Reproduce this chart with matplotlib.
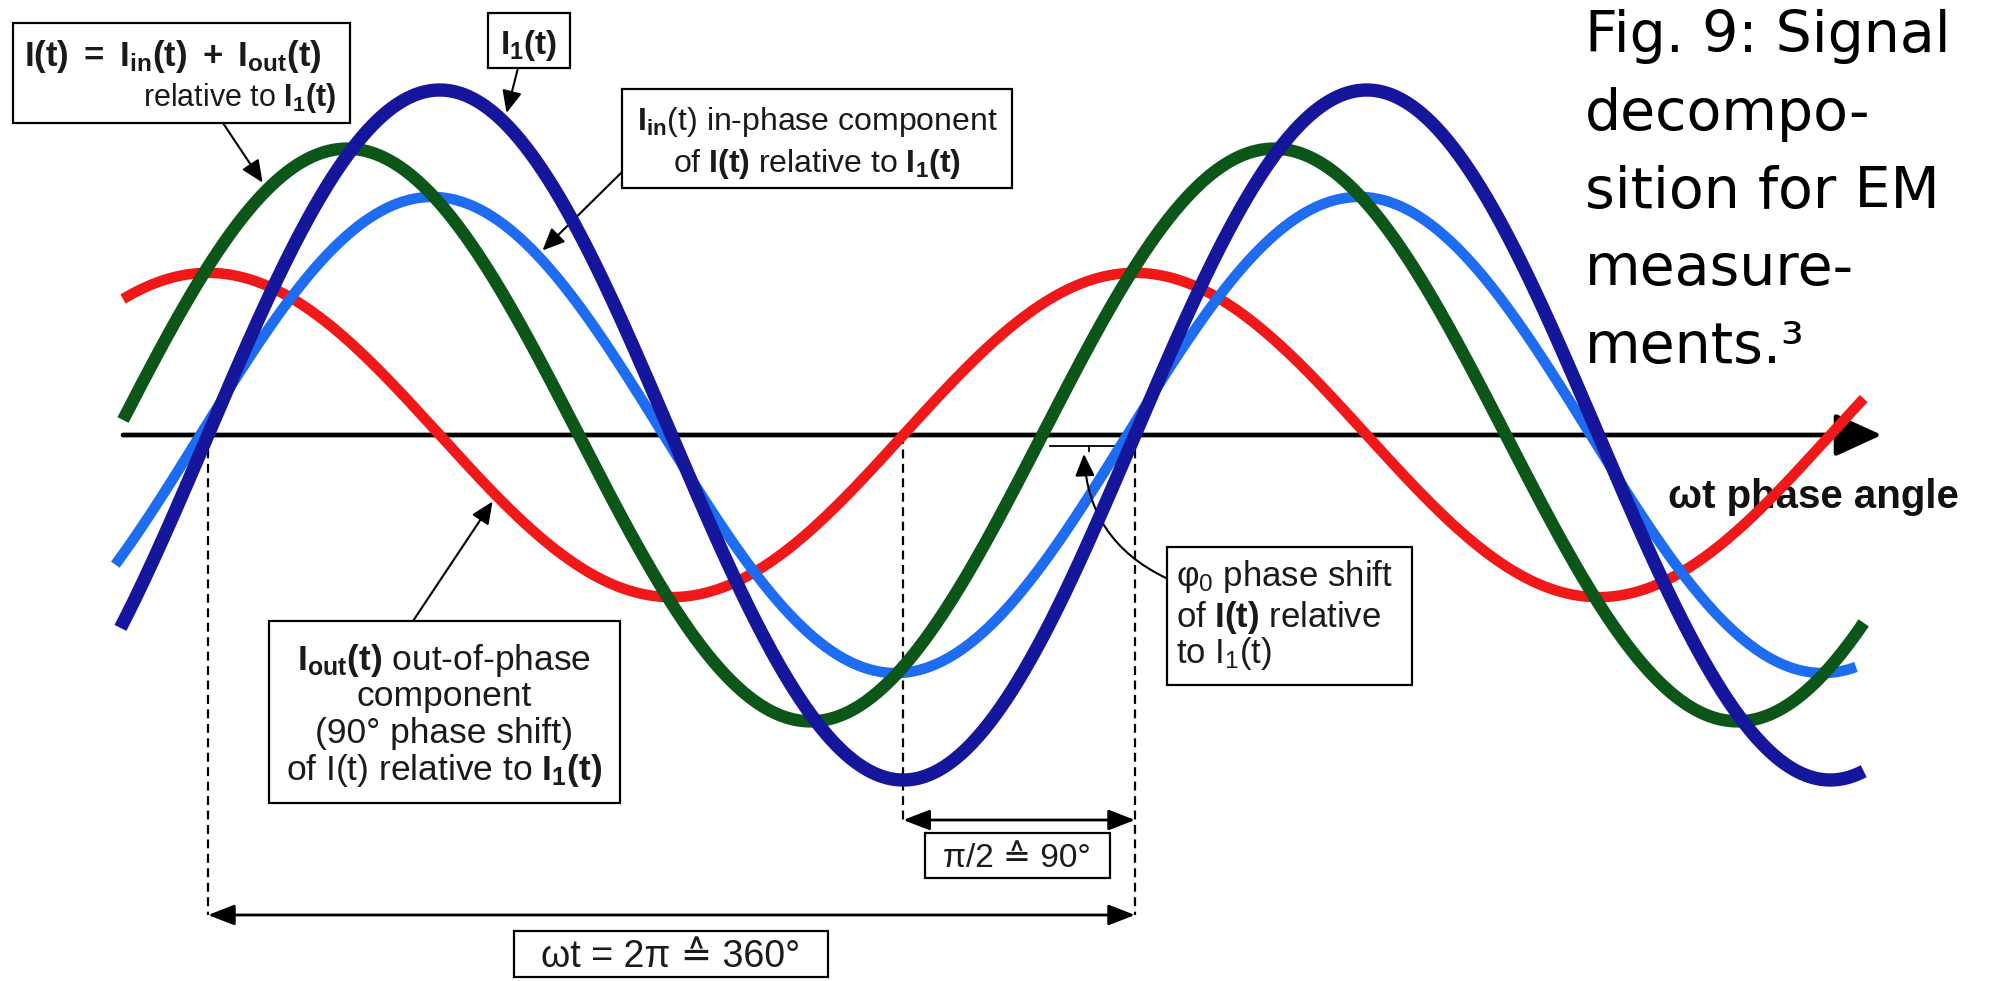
import numpy as np
import matplotlib.pyplot as plt
from matplotlib.patches import Rectangle

plt.rcParams['font.family'] = ['Liberation Sans', 'DejaVu Sans']
plt.rcParams['mathtext.fontset'] = 'custom'
plt.rcParams['mathtext.rm'] = 'Liberation Sans'
plt.rcParams['mathtext.it'] = 'Liberation Sans:italic'
plt.rcParams['mathtext.bf'] = 'Liberation Sans:bold'

# signals, amplitude relative to I1(t), phase lead in degrees
curve_names = ["I1(t)", "I(t)", "Iin(t)", "Iout(t)"]
amplitudes = [1.0, 0.83, 0.69, 0.47]
phase_leads = [0, 36, 3, 90]
start_angles = [-34, -33, -36, -33]
end_angles = [643, 643, 640, 643]
colors = ["#16169c", "#0c561a", "#1e6cf2", "#f01818"]
widths = [9.6, 9.0, 7.6, 7.6]
zorders = [5, 4, 3, 2]

# marked angles (degrees)
period_start = 0
quarter_start = 270
period_end = 360
phi0 = 36

caption_lines = ["Fig. 9: Signal", "decompo-", "sition for EM", "measure-", "ments.³"]

W, H = 1992, 981
X0, PX_DEG = 208, 2.575
Y0, PX_AMP = 435, 345


def d(px, py):
    # pixel position in the picture -> data coords
    return ((px - X0) / PX_DEG, (Y0 - py) / PX_AMP)


def signal(i, ang):
    return amplitudes[i] * np.sin(np.radians(np.asarray(ang) + phase_leads[i]))


fig = plt.figure(figsize=(W / 100, H / 100), dpi=100)
ax = fig.add_axes([0, 0, 1, 1])
ax.set_xlim(d(0, 0)[0], d(W, 0)[0])
ax.set_ylim(d(0, H)[1], d(0, 0)[1])
ax.axis('off')

# phase axis
ax.annotate('', xy=(650, 0), xytext=(-33, 0),
            arrowprops=dict(arrowstyle='-|>,head_length=1.2,head_width=0.55', mutation_scale=24,
                            lw=3.4, color='black', shrinkA=0, shrinkB=0), zorder=1)
ax.text(*d(1668, 508), "ωt phase angle", fontsize=29, fontweight='bold', ha='left', va='baseline',
        color='#111111', zorder=1)

# curves
for i in range(len(curve_names)):
    ang = np.linspace(start_angles[i], end_angles[i], 900)
    ax.plot(ang, signal(i, ang), color=colors[i], lw=widths[i], solid_capstyle='butt',
            zorder=zorders[i])

# dashed guides and dimension arrows
y_low = d(0, 915)[1]
y_mid = d(0, 820)[1]
dash = dict(color='black', lw=1.6, dashes=(4, 2.5), zorder=1.5)
ax.plot([period_start, period_start], [0, y_low], **dash)
ax.plot([quarter_start, quarter_start], [0, y_mid], **dash)
ax.plot([period_end, period_end], [0, y_low], **dash)
dim = dict(arrowstyle='<|-|>,head_length=0.9,head_width=0.35', mutation_scale=18, lw=2,
           color='black', shrinkA=0, shrinkB=0)
ax.annotate('', xy=(period_end, y_low), xytext=(period_start, y_low), arrowprops=dim)
ax.annotate('', xy=(period_end, y_mid), xytext=(quarter_start, y_mid), arrowprops=dim)

# phase shift bracket under the axis
yb = d(0, 446)[1]
ax.plot([period_end - phi0 + 3, period_end - 3], [yb, yb], color='black', lw=1.3, zorder=1.5)
ax.plot([period_end - phi0 / 2] * 2, [yb, d(0, 451)[1]], color='black', lw=1.3, zorder=1.5)


def box(x0, y0, x1, y1):
    a, b = d(x0, y1)
    c, e = d(x1, y0)
    ax.add_patch(Rectangle((a, b), c - a, e - b, fc='white', ec='black', lw=1.6, zorder=6))


def label(px, py, s, ha='center', size=23):
    ax.text(*d(px, py), s, fontsize=size, ha=ha, va='baseline', color='#1a1a1a', zorder=7)


arrow = dict(arrowstyle='-|>,head_length=0.9,head_width=0.4', mutation_scale=15, lw=1.5,
             color='black', shrinkA=0)

# I(t) box
box(13, 23, 350, 123)
label(24, 66, r"$\mathbf{I(t)\ =\ I_{in}(t)\ +\ I_{out}(t)}$", ha='left', size=25)
label(336, 106, r"relative to $\mathbf{I_1(t)}$", ha='right', size=22)
ax.annotate('', xy=(23, signal(1, 23)), xytext=d(223, 123), arrowprops=dict(arrow, shrinkB=6))

# I1(t) box
box(488, 13, 570, 68)
label(529, 54, r"$\mathbf{I_1(t)}$", size=24)
ax.annotate('', xy=(115, signal(0, 115)), xytext=d(518, 68), arrowprops=dict(arrow, shrinkB=7))

# in-phase box
box(622, 89, 1012, 188)
label(817, 130, r"$\mathbf{I_{in}}$(t) in-phase component")
label(817, 172, r"of $\mathbf{I(t)}$ relative to $\mathbf{I_1(t)}$")
ax.annotate('', xy=(128, signal(2, 128)), xytext=d(622, 172), arrowprops=dict(arrow, shrinkB=5))

# phase shift box
box(1167, 547, 1412, 685)
label(1176, 586, r"$\mathrm{φ_0}$ phase shift", ha='left', size=25)
label(1176, 627, r"of $\mathbf{I(t)}$ relative", ha='left', size=25)
label(1176, 663, r"to $\mathrm{I_1(t)}$", ha='left', size=25)
ax.annotate('', xy=d(1084, 454), xytext=d(1166, 578),
            arrowprops=dict(arrow, shrinkB=0, connectionstyle='arc3,rad=-0.3'))

# out-of-phase box
box(269, 621, 620, 803)
label(444, 670, r"$\mathbf{I_{out}(t)}$ out-of-phase", size=25.5)
label(444, 706, "component", size=25.5)
label(444, 743, "(90° phase shift)", size=25.5)
label(444, 780, r"of I(t) relative to $\mathbf{I_1(t)}$", size=25.5)
ax.annotate('', xy=(112, signal(3, 112)), xytext=d(413, 621), arrowprops=dict(arrow, shrinkB=5))

# quarter period and full period boxes
box(925, 833, 1110, 878)
label(1017, 867, "π/2 ≙ 90°", size=24)
box(514, 931, 828, 977)
label(671, 967, "ωt = 2π ≙ 360°", size=27)

# caption
for k, line in enumerate(caption_lines):
    ax.text(*d(1585, 52 + 77.8 * k), line, fontsize=41, family=['DejaVu Sans'],
            ha='left', va='baseline', color='black', zorder=8)

fig.savefig('out.png', dpi=100)
